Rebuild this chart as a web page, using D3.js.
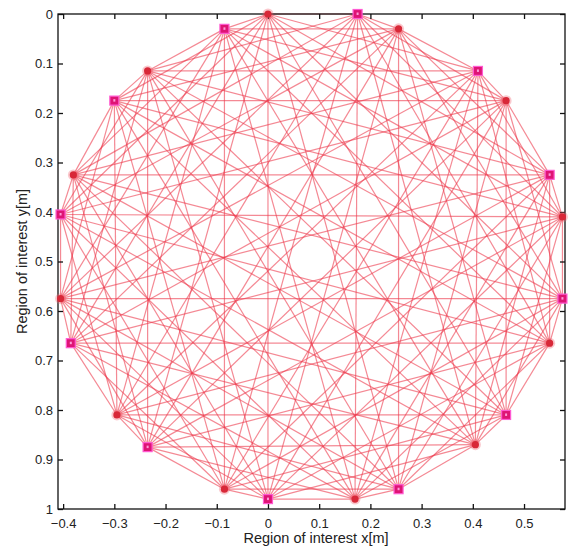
<!DOCTYPE html>
<html>
<head>
<meta charset="utf-8">
<script src="https://cdn.jsdelivr.net/npm/d3@7"></script>
<style>
  html, body { margin: 0; padding: 0; background: #fff; }
  svg { display: block; }
  text { font-family: "Liberation Sans", Arial, sans-serif; fill: #222; }
</style>
</head>
<body>
<svg id="chart" width="572" height="550"></svg>
<script>
// Sensor positions around the region of interest (x, y in metres)
const nodeX = [0.000, 0.175, 0.255, 0.410, 0.465, 0.550, 0.575, 0.575, 0.550, 0.465, 0.405, 0.255,
               0.170, 0.000, -0.085, -0.235, -0.295, -0.385, -0.405, -0.405, -0.380, -0.300, -0.235, -0.085];
const nodeY = [0.000, 0.000, 0.030, 0.115, 0.175, 0.325, 0.410, 0.575, 0.665, 0.810, 0.870, 0.960,
               0.980, 0.980, 0.960, 0.875, 0.810, 0.665, 0.575, 0.405, 0.325, 0.175, 0.115, 0.030];
// Node type: "tx" drawn as red dots, "rx" drawn as magenta squares
const nodeType = ["tx", "rx", "tx", "rx", "tx", "rx", "tx", "rx", "tx", "rx", "tx", "rx",
                  "tx", "rx", "tx", "rx", "tx", "rx", "tx", "rx", "tx", "rx", "tx", "rx"];

const xTicks = [-0.4, -0.3, -0.2, -0.1, 0, 0.1, 0.2, 0.3, 0.4, 0.5];
const yTicks = [0, 0.1, 0.2, 0.3, 0.4, 0.5, 0.6, 0.7, 0.8, 0.9, 1];
const xTitle = "Region of interest x[m]";
const yTitle = "Region of interest y[m]";

const svg = d3.select("#chart");
const plot = { left: 58, right: 565, top: 14, bottom: 509 };

const x = d3.scaleLinear().domain([-0.41, 0.58]).range([plot.left, plot.right]);
const y = d3.scaleLinear().domain([0, 1]).range([plot.top, plot.bottom]);

const nodes = nodeX.map((v, i) => ({ x: v, y: nodeY[i], type: nodeType[i] }));

// Each transmitter is linked to every receiver
const links = [];
nodes.forEach(a => {
  if (a.type !== "tx") return;
  nodes.forEach(b => { if (b.type === "rx") links.push([a, b]); });
});

svg.append("g")
  .selectAll("line")
  .data(links)
  .join("line")
  .attr("x1", d => x(d[0].x)).attr("y1", d => y(d[0].y))
  .attr("x2", d => x(d[1].x)).attr("y2", d => y(d[1].y))
  .attr("stroke", "#ec3a4c")
  .attr("stroke-opacity", 0.6)
  .attr("stroke-width", 1.2);

// Axes box with inward ticks on all four sides
const tickLen = 5;
svg.append("rect")
  .attr("x", plot.left).attr("y", plot.top)
  .attr("width", plot.right - plot.left).attr("height", plot.bottom - plot.top)
  .attr("fill", "none").attr("stroke", "#111").attr("stroke-width", 1.3);

const xAxisBottom = d3.axisBottom(x).tickValues(xTicks).tickSizeInner(-tickLen).tickSizeOuter(0)
  .tickPadding(10).tickFormat(d => d3.format("")(d).replace("-", "\u2212"));
const xAxisTop = d3.axisTop(x).tickValues(xTicks).tickSizeInner(-tickLen).tickSizeOuter(0).tickFormat("");
const yAxisLeft = d3.axisLeft(y).tickValues(yTicks).tickSizeInner(-tickLen).tickSizeOuter(0)
  .tickPadding(5).tickFormat(d3.format(""));
const yAxisRight = d3.axisRight(y).tickValues(yTicks).tickSizeInner(-tickLen).tickSizeOuter(0).tickFormat("");

function styleAxis(g) {
  g.select(".domain").remove();
  g.selectAll(".tick line").attr("stroke", "#111").attr("stroke-width", 1.3);
  g.selectAll(".tick text").attr("font-size", 13).attr("fill", "#222")
    .attr("font-family", "\"Liberation Sans\", Arial, sans-serif");
}

svg.append("g").attr("transform", `translate(0,${plot.bottom})`).call(xAxisBottom).call(styleAxis);
svg.append("g").attr("transform", `translate(0,${plot.top})`).call(xAxisTop).call(styleAxis);
svg.append("g").attr("transform", `translate(${plot.left},0)`).call(yAxisLeft).call(styleAxis);
svg.append("g").attr("transform", `translate(${plot.right},0)`).call(yAxisRight).call(styleAxis);

// Nodes
const nodeG = svg.append("g");
const txNodes = nodes.filter(d => d.type === "tx");
const rxNodes = nodes.filter(d => d.type === "rx");

nodeG.selectAll("circle.halo")
  .data(txNodes)
  .join("circle")
  .attr("class", "halo")
  .attr("cx", d => x(d.x)).attr("cy", d => y(d.y))
  .attr("r", 5.5)
  .attr("fill", "#f06070").attr("opacity", 0.35);
nodeG.selectAll("circle.tx")
  .data(txNodes)
  .join("circle")
  .attr("class", "tx")
  .attr("cx", d => x(d.x)).attr("cy", d => y(d.y))
  .attr("r", 3.6)
  .attr("fill", "#d82838");

nodeG.selectAll("rect.rx")
  .data(rxNodes)
  .join("rect")
  .attr("class", "rx")
  .attr("x", d => x(d.x) - 4.5).attr("y", d => y(d.y) - 4.5)
  .attr("width", 9).attr("height", 9)
  .attr("fill", "#de1474")
  .attr("stroke", "#ff5ad2").attr("stroke-width", 1.2);
nodeG.selectAll("rect.rxc")
  .data(rxNodes)
  .join("rect")
  .attr("class", "rxc")
  .attr("x", d => x(d.x) - 1).attr("y", d => y(d.y) - 1.5)
  .attr("width", 2).attr("height", 2.5)
  .attr("fill", "#ff9ad8");

// Axis titles
svg.append("text")
  .attr("x", 316).attr("y", 543)
  .attr("text-anchor", "middle").attr("font-size", 14.5)
  .text(xTitle);
svg.append("text")
  .attr("transform", `translate(27,${(plot.top + plot.bottom) / 2}) rotate(-90)`)
  .attr("text-anchor", "middle").attr("font-size", 14.5)
  .text(yTitle);
</script>
</body>
</html>
